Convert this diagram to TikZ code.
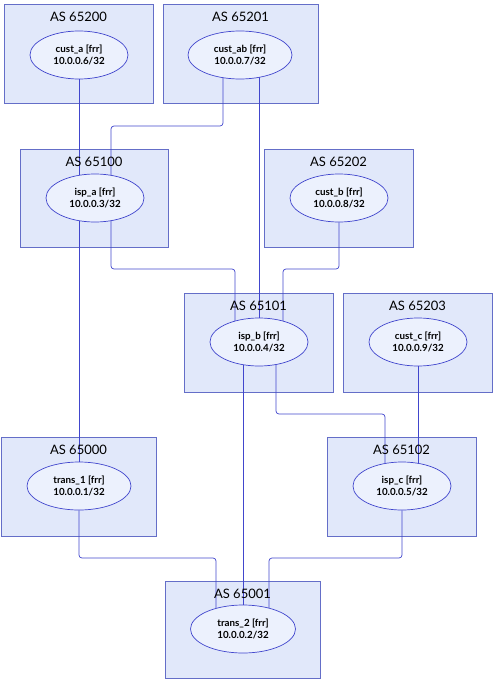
\documentclass[tikz,border=0pt]{standalone}
\usepackage{fontspec}
\setmainfont{Lato}
\usetikzlibrary{shapes.geometric}
\pgfdeclarelayer{back}
\pgfdeclarelayer{wires}
\pgfsetlayers{back,wires,main}
\definecolor{asfill}{RGB}{225,232,250}
\definecolor{asline}{RGB}{100,110,200}
\definecolor{rtfill}{RGB}{236,241,253}
\definecolor{wire}{RGB}{65,70,205}
\tikzset{
  router/.style={ellipse,draw=wire,fill=rtfill,line width=0.7pt,minimum width=98pt,minimum height=48pt,
    inner sep=1pt,align=center,font=\bfseries\fontsize{9.8}{12}\selectfont},
  asbox/.style={draw=asline,fill=asfill,line width=0.7pt},
  astitle/.style={font=\fontsize{13}{15}\selectfont,inner sep=0pt},
  link/.style={draw=wire,line width=0.7pt,rounded corners=3pt}
}
\newcommand{\asbox}[5]{% x1,y1,x2,y2,title
  \begin{pgfonlayer}{back}
    \draw[asbox] (#1,#2) rectangle (#3,#4);
  \end{pgfonlayer}
  \node[astitle] at ({(#1+#3)/2},#2+13) {#5};
}
\begin{document}
\begin{tikzpicture}[x=1pt,y=-1pt]
\useasboundingbox (0,0) rectangle (497,685);

% the routers
\node[router] (custa)  at (79,55)   {cust\_a [frr]\\10.0.0.6/32};
\node[router,minimum width=104pt] (custab) at (240,55) {cust\_ab [frr]\\10.0.0.7/32};
\node[router] (ispa)   at (95,198)  {isp\_a [frr]\\10.0.0.3/32};
\node[router] (custb)  at (339,198) {cust\_b [frr]\\10.0.0.8/32};
\node[router] (ispb)   at (259,342) {isp\_b [frr]\\10.0.0.4/32};
\node[router] (custc)  at (418,342) {cust\_c [frr]\\10.0.0.9/32};
\node[router,minimum width=104pt] (trans1) at (79,486) {trans\_1 [frr]\\10.0.0.1/32};
\node[router] (ispc)   at (402,486) {isp\_c [frr]\\10.0.0.5/32};
\node[router,minimum width=105pt] (trans2) at (243,629) {trans\_2 [frr]\\10.0.0.2/32};

% the AS clusters
\asbox{4}{4}{153}{103}{AS 65200}
\asbox{163}{4}{318}{103}{AS 65201}
\asbox{20}{149}{168}{247}{AS 65100}
\asbox{264}{149}{413}{247}{AS 65202}
\asbox{184}{293}{333}{392}{AS 65101}
\asbox{343}{293}{492}{392}{AS 65203}
\asbox{1}{437}{156}{536}{AS 65000}
\asbox{327}{437}{476}{536}{AS 65102}
\asbox{165}{581}{320}{678}{AS 65001}

% the sessions
\begin{pgfonlayer}{wires}
\draw[link] (custa) -- (custa |- ispa);
\draw[link] ([xshift=-17pt]custab.center) |- (160,126) -| ([xshift=16pt]ispa.center);
\draw[link] (ispb |- custab) -- (ispb);
\draw[link] ([xshift=16pt]ispa.center) |- (170,269) -| ([xshift=-24pt]ispb.center);
\draw[link] (custb) |- (310,269) -| ([xshift=24pt]ispb.center);
\draw[link] (trans1 |- ispa) -- (trans1);
\draw[link] (custc) -- (custc |- ispc);
\draw[link] ([xshift=17pt]ispb.center) |- (330,414) -| ([xshift=-17pt]ispc.center);
\draw[link] (trans2 |- ispb) -- (trans2);
\draw[link] (trans1) |- (150,558) -| ([xshift=-27pt]trans2.center);
\draw[link] (ispc) |- (330,558) -| ([xshift=26pt]trans2.center);
\end{pgfonlayer}

\end{tikzpicture}
\end{document}
